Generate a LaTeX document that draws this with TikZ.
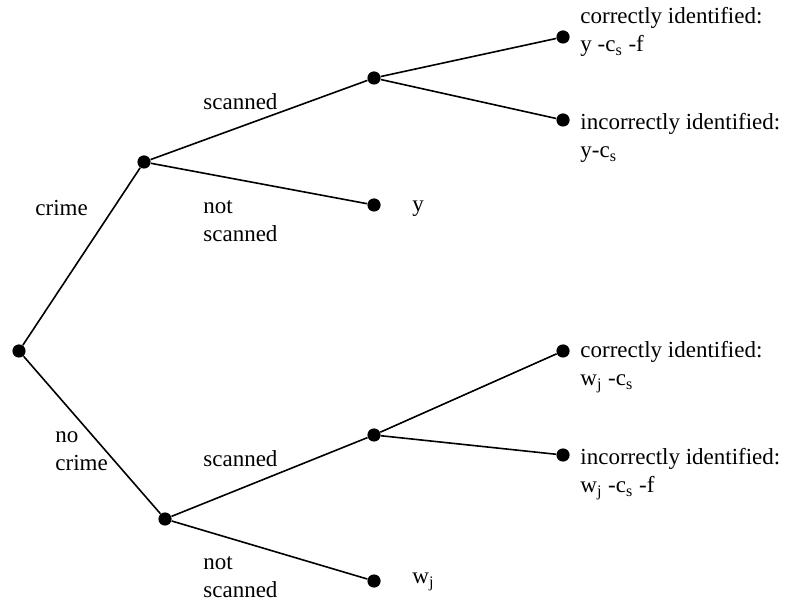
\documentclass[tikz,border=0pt]{standalone}
\usepackage{fontspec}
\setmainfont{Liberation Serif}
\begin{document}
\begin{tikzpicture}[x=0.5pt,y=-0.5pt,
  dot/.style={circle,fill=black,inner sep=0pt,minimum size=6.6pt},
  edge/.style={line width=0.8pt},
  lbl/.style={anchor=west,align=left,inner sep=0pt,font=\fontsize{11.5}{14}\selectfont}]
\useasboundingbox (0,0) rectangle (786,603);
\node[dot] (r) at (19,351) {};
\node[dot] (c) at (144,162) {};
\node[dot] (n) at (165,519) {};
\node[dot] (cs) at (374,78) {};
\node[dot] (cn) at (374,205) {};
\node[dot] (cs1) at (563,37) {};
\node[dot] (cs2) at (563,120) {};
\node[dot] (ns) at (374,435) {};
\node[dot] (nn) at (374,581) {};
\node[dot] (ns1) at (563,351) {};
\node[dot] (ns2) at (563,455) {};
\draw[edge] (r) -- (c);
\draw[edge] (r) -- (n);
\draw[edge] (c) -- (cs);
\draw[edge] (c) -- (cn);
\draw[edge] (cs) -- (cs1);
\draw[edge] (cs) -- (cs2);
\draw[edge] (n) -- (ns);
\draw[edge] (n) -- (nn);
\draw[edge] (ns) -- (ns1);
\draw[edge] (ns) -- (ns2);
\node[lbl] (l1) at (203,102) {scanned};
\node[lbl] (l2) at (35,208) {crime};
\node[lbl] (l3) at (203,221) {not\\scanned};
\node[lbl] (l4) at (412,209) {y};
\node[lbl] (l5) at (580,32) {correctly identified:\\y -c\textsubscript{s} -f};
\node[lbl] (l6) at (580,138) {incorrectly identified:\\y-c\textsubscript{s}};
\node[lbl] (l7) at (55,451) {no\\crime};
\node[lbl] (l8) at (203,459) {scanned};
\node[lbl] (l9) at (203,577) {not\\scanned};
\node[lbl] (l10) at (412,582) {w\textsubscript{j}};
\node[lbl] (l11) at (580,367) {correctly identified:\\w\textsubscript{j} -c\textsubscript{s}};
\node[lbl] (l12) at (580,474) {incorrectly identified:\\w\textsubscript{j} -c\textsubscript{s} -f};
\end{tikzpicture}
\end{document}
